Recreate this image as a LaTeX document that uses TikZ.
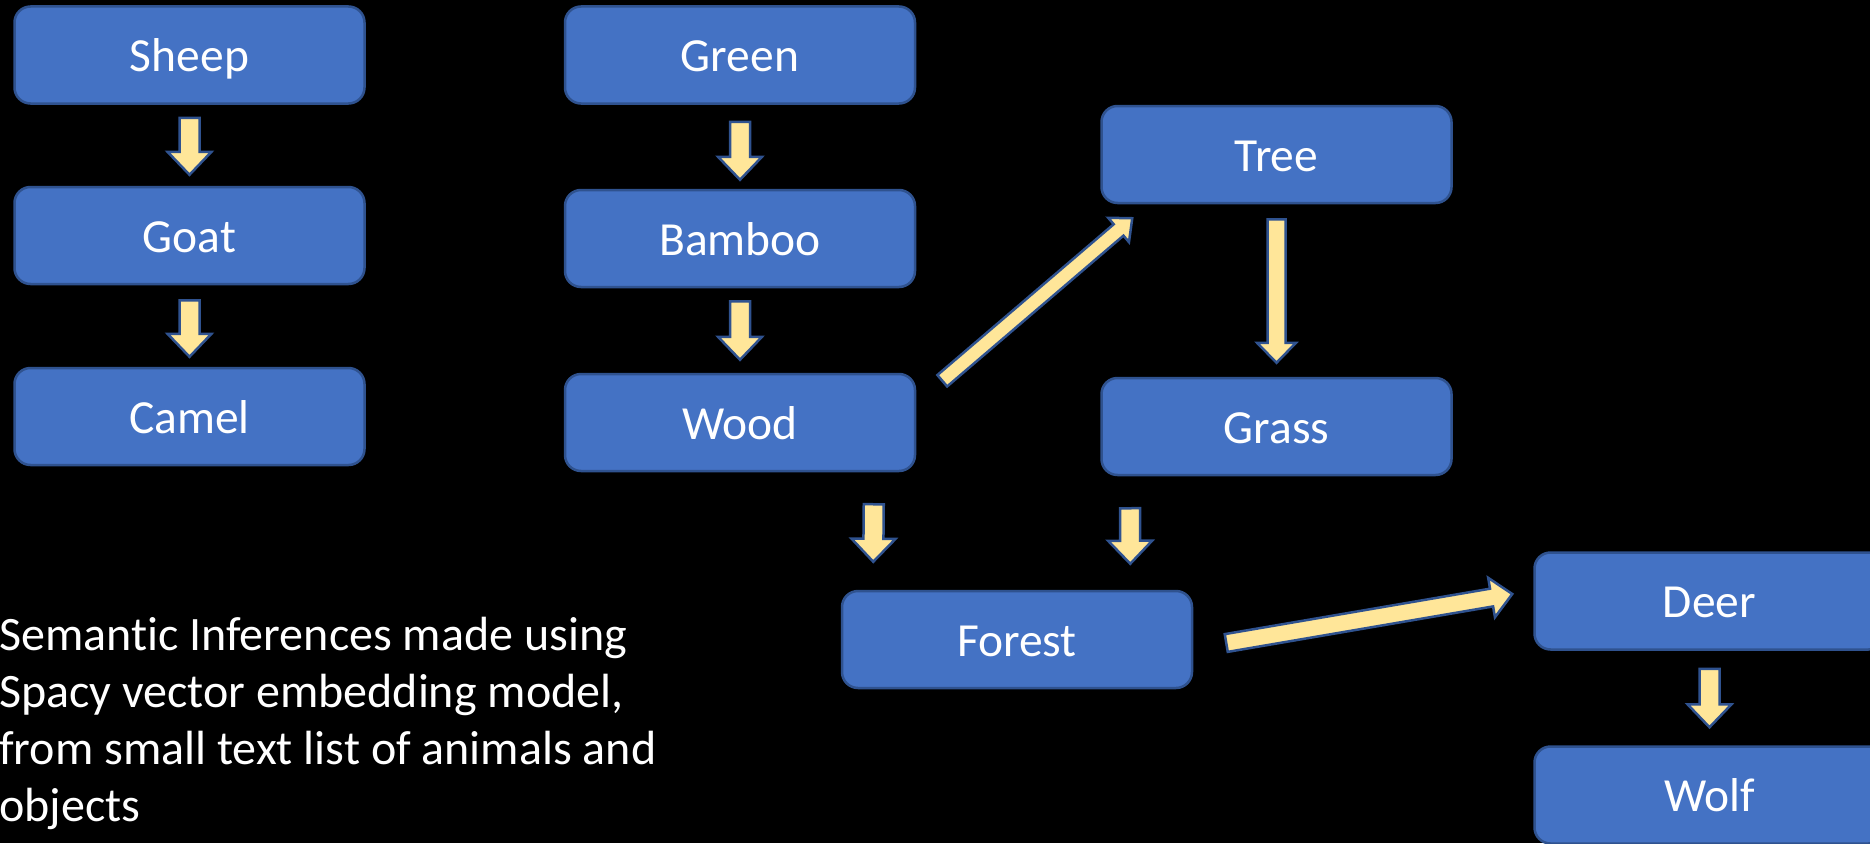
\documentclass[tikz,border=0pt]{standalone}
\usepackage{fontspec}
\setmainfont{Carlito}[Ligatures=NoCommon]
\usetikzlibrary{calc}
\definecolor{boxfill}{HTML}{4472C4}
\definecolor{boxline}{HTML}{2F528F}
\definecolor{arrfill}{HTML}{FFE699}
\tikzset{
  wordbox/.style={draw=boxline, line width=2.5pt, fill=boxfill, rounded corners=16pt,
    minimum width=350pt, minimum height=97pt, inner sep=0pt, text=white,
    font=\fontsize{47.5}{57}\selectfont, text height=33pt, text depth=0pt},
  blockarrow/.style={draw=boxline, line width=2.5pt, fill=arrfill, line join=miter},
  notetext/.style={text=white, align=left, inner sep=0pt, font=\fontsize{48}{57}\selectfont}
}
% #1 tail, #2 tip, #3 shaft half width, #4 head half width, #5 head length
\newcommand{\blockarr}[5]{%
  \coordinate (arrh) at ($(#2)!#5!(#1)$);
  \draw[blockarrow] ($(#1)!#3!90:(#2)$) -- ($(arrh)!#3!90:(#2)$) -- ($(arrh)!#4!90:(#2)$)
    -- (#2) -- ($(arrh)!#4!-90:(#2)$) -- ($(arrh)!#3!-90:(#2)$) -- ($(#1)!#3!-90:(#2)$) -- cycle;
}
\begin{document}
\begin{tikzpicture}[x=1pt,y=-1pt]
\useasboundingbox (0,0) rectangle (1870,843);
\clip (0,0) rectangle (1870,843);
\fill[black] (0,0) rectangle (1870,843);

\node[wordbox] (sheep)  at (189.5,55)   {Sheep};
\node[wordbox] (goat)   at (189.5,235.5){Goat};
\node[wordbox] (camel)  at (189.5,416.5){Camel};
\node[wordbox] (green)  at (740,55)     {Green};
\node[wordbox] (bamboo) at (740,238.5)  {Bamboo};
\node[wordbox] (wood)   at (740,422.5)  {Wood};
\node[wordbox] (tree)   at (1276.5,154.5){Tree};
\node[wordbox] (grass)  at (1276.5,426.5){Grass};
\node[wordbox] (forest) at (1017,639.5) {Forest};
\node[wordbox] (deer)   at (1709.5,601) {Deer};
\node[wordbox] (wolf)   at (1709.5,795) {Wolf};

\node[notetext, anchor=north west] (note) at (-1,617)
  {Semantic Inferences made using\\Spacy vector embedding model,\\from small text list of animals and\\objects};

% vertical arrows
\coordinate (a1t) at ($(sheep.south)+(0,13)$);  \coordinate (a1h) at ($(goat.north)+(0,-11)$);
\coordinate (a2t) at ($(goat.south)+(0,15)$);   \coordinate (a2h) at ($(camel.north)+(0,-10)$);
\coordinate (a3t) at ($(green.south)+(0,17)$);  \coordinate (a3h) at ($(bamboo.north)+(0,-9)$);
\coordinate (a4t) at ($(bamboo.south)+(0,13)$); \coordinate (a4h) at ($(wood.north)+(0,-13)$);
\coordinate (a5t) at ($(tree.south)+(0,15)$);   \coordinate (a5h) at ($(grass.north)+(0,-14)$);
\coordinate (a6t) at ($(wood.south east)+(-42.5,32)$);  \coordinate (a6h) at ($(forest.north west)+(32.5,-28)$);
\coordinate (a7t) at ($(grass.south)+(-146.5,32)$);     \coordinate (a7h) at ($(forest.north east)+(-63,-26)$);
\coordinate (a8t) at ($(deer.south)+(0,18)$);   \coordinate (a8h) at ($(wolf.north)+(0,-18)$);
% diagonal arrows
\coordinate (a9t) at ($(wood.north east)+(26,8)$);   \coordinate (a9h) at ($(tree.south west)+(32,14)$);
\coordinate (a10t) at ($(forest.east)+(33,3.5)$);    \coordinate (a10h) at ($(deer.west)+(-21,-7)$);

\blockarr{a1t}{a1h}{10pt}{22pt}{23pt}
\blockarr{a2t}{a2h}{10pt}{22pt}{23pt}
\blockarr{a3t}{a3h}{10pt}{22pt}{23pt}
\blockarr{a4t}{a4h}{10pt}{22pt}{23pt}
\blockarr{a5t}{a5h}{9pt}{19.5pt}{20pt}
\blockarr{a6t}{a6h}{10pt}{22pt}{23pt}
\blockarr{a7t}{a7h}{10pt}{22pt}{23pt}
\blockarr{a8t}{a8h}{10pt}{22pt}{23pt}
\blockarr{a9t}{a9h}{7.5pt}{16pt}{18pt}
\blockarr{a10t}{a10h}{9pt}{20pt}{21pt}
\end{tikzpicture}
\end{document}
